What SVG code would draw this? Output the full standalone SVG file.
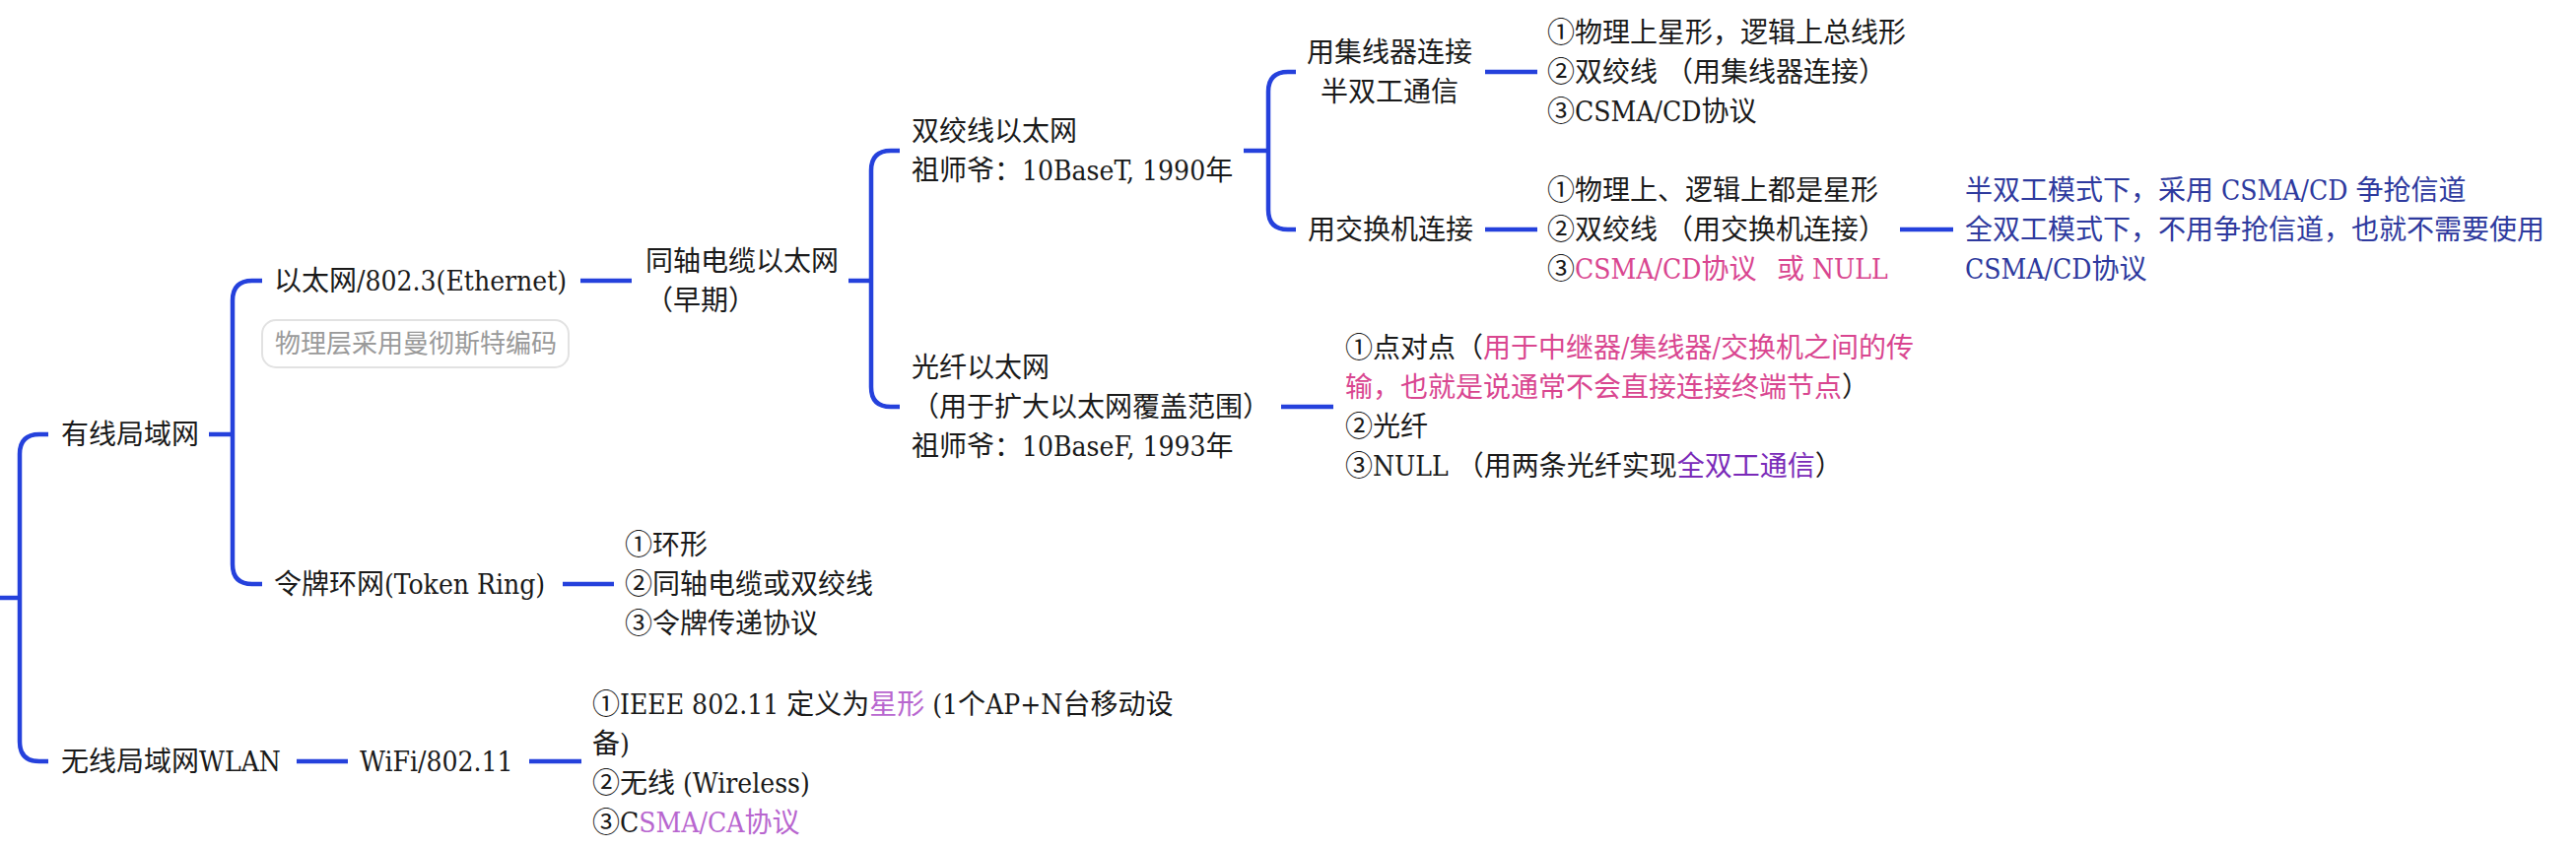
<svg xmlns="http://www.w3.org/2000/svg" width="2614" height="860" viewBox="0 0 2614 860">
<style>
text{font-family:"DejaVu Serif Condensed","DejaVu Serif","Noto Sans CJK SC",serif;font-stretch:condensed;font-size:28px;fill:#1a1a1a}
.c{fill:none;stroke:#2541dc;stroke-width:4.5;stroke-linecap:butt;stroke-linejoin:round}
.pk{fill:#d94690}
.pu{fill:#7a2ab8}
.lp{fill:#b866cf}
.bl{fill:#2e3a9e}
.note{font-size:26px;fill:#9a9a9a}
.mid{text-anchor:middle}
</style>
<rect width="2614" height="860" fill="#ffffff"/>
<g id="connectors">
<path class="c" d="M0,607 H20"/>
<path class="c" d="M49,441 H40 Q20,441 20,461 V753 Q20,773 40,773 H49"/>
<path class="c" d="M212,441 H236"/>
<path class="c" d="M266,285 H256 Q236,285 236,305 V573 Q236,593 256,593 H266"/>
<path class="c" d="M589,285 H641"/>
<path class="c" d="M861,285 H884"/>
<path class="c" d="M913,153 H904 Q884,153 884,173 V393 Q884,413 904,413 H913"/>
<path class="c" d="M1262,153 H1287"/>
<path class="c" d="M1315,73 H1307 Q1287,73 1287,93 V213 Q1287,233 1307,233 H1315"/>
<path class="c" d="M1507,73 H1560"/>
<path class="c" d="M1507,233 H1560"/>
<path class="c" d="M1928,233 H1982"/>
<path class="c" d="M1300,413 H1353"/>
<path class="c" d="M571,593 H623"/>
<path class="c" d="M301,773 H353"/>
<path class="c" d="M537,773 H590"/>
</g>
<g id="n-wired"><text x="62" y="451">有线局域网</text></g>
<g id="n-wireless"><text x="62" y="783">无线局域网WLAN</text></g>
<g id="n-ethernet">
<text x="278" y="295">以太网/802.3(Ethernet)</text>
<rect x="266" y="325" width="311" height="48" rx="14" fill="#ffffff" stroke="#e2e2e2" stroke-width="2"/>
<text class="note" x="279" y="358">物理层采用曼彻斯特编码</text>
</g>
<g id="n-token"><text x="278" y="603">令牌环网(Token Ring)</text></g>
<g id="n-token-items">
<text x="634" y="563">①环形</text>
<text x="634" y="603">②同轴电缆或双绞线</text>
<text x="634" y="643">③令牌传递协议</text>
</g>
<g id="n-coax">
<text x="655" y="275">同轴电缆以太网</text>
<text x="655" y="315">（早期）</text>
</g>
<g id="n-twisted">
<text x="925" y="143">双绞线以太网</text>
<text x="925" y="183">祖师爷：10BaseT, 1990年</text>
</g>
<g id="n-fiber">
<text x="925" y="383">光纤以太网</text>
<text x="925" y="423">（用于扩大以太网覆盖范围）</text>
<text x="925" y="463">祖师爷：10BaseF, 1993年</text>
</g>
<g id="n-hub">
<text class="mid" x="1410" y="63">用集线器连接</text>
<text class="mid" x="1410" y="103">半双工通信</text>
</g>
<g id="n-switch"><text x="1327" y="243">用交换机连接</text></g>
<g id="n-hub-items">
<text x="1570" y="43">①物理上星形，逻辑上总线形</text>
<text x="1570" y="83">②双绞线 （用集线器连接）</text>
<text x="1570" y="123">③CSMA/CD协议</text>
</g>
<g id="n-switch-items">
<text x="1570" y="203">①物理上、逻辑上都是星形</text>
<text x="1570" y="243">②双绞线 （用交换机连接）</text>
<text x="1570" y="283">③<tspan class="pk">CSMA/CD协议</tspan><tspan class="pk" x="1803">或 NULL</tspan></text>
</g>
<g id="n-duplex">
<text class="bl" x="1994" y="203">半双工模式下，采用 CSMA/CD 争抢信道</text>
<text class="bl" x="1994" y="243">全双工模式下，不用争抢信道，也就不需要使用</text>
<text class="bl" x="1994" y="283">CSMA/CD协议</text>
</g>
<g id="n-fiber-items">
<text x="1365" y="363">①点对点（<tspan class="pk">用于中继器/集线器/交换机之间的传</tspan></text>
<text x="1365" y="403"><tspan class="pk">输，也就是说通常不会直接连接终端节点</tspan>）</text>
<text x="1365" y="443">②光纤</text>
<text x="1365" y="483">③NULL （用两条光纤实现<tspan class="pu">全双工通信</tspan>）</text>
</g>
<g id="n-wifi"><text x="365" y="783">WiFi/802.11</text></g>
<g id="n-wifi-items">
<text x="601" y="725">①IEEE 802.11 定义为<tspan class="lp">星形</tspan> (1个AP+N台移动设</text>
<text x="601" y="765">备)</text>
<text x="601" y="805">②无线 (Wireless)</text>
<text x="601" y="845">③C<tspan class="lp">SMA/CA协议</tspan></text>
</g>
</svg>
